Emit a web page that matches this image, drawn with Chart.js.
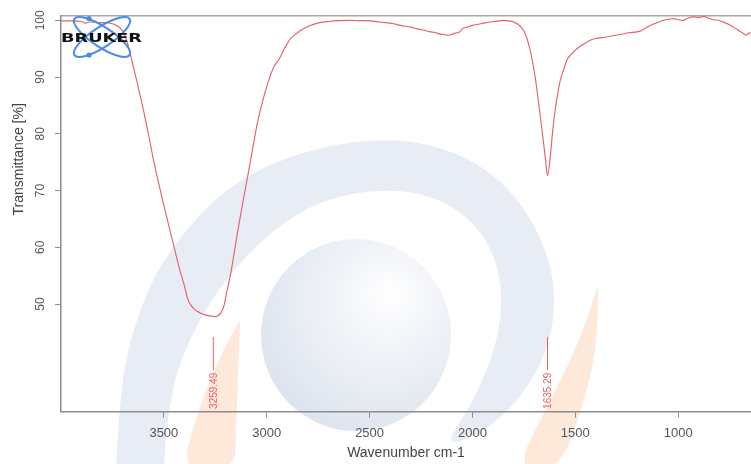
<!DOCTYPE html>
<html><head><meta charset="utf-8">
<script src="https://cdn.jsdelivr.net/npm/chart.js@4.4.1/dist/chart.umd.min.js"></script>
<style>html,body{margin:0;padding:0;background:#fff;overflow:hidden}</style>
</head><body>
<canvas id="c" width="751" height="464"></canvas>
<script>
// ---- data ----
const wavenumbers = [4000,3950,3900,3880,3860,3820,3780,3750,3730,3715,3700,3690,3677,3660,3636,3600,3570,3544,3500,3458,3424,3400,3385,3370,3355,3340,3320,3300,3275,3255,3240,3224,3208,3195,3175,3160,3143,3111,3078,3046,3025,3005,2985,2965,2941,2917,2900,2884,2868,2836,2800,2754,2700,2650,2593,2550,2496,2450,2400,2383,2350,2300,2269,2240,2210,2188,2160,2140,2123,2100,2090,2075,2060,2050,2026,2000,1970,1946,1900,1870,1849,1820,1800,1775,1751,1735,1719,1695,1670,1646,1635,1622,1610,1598,1585,1573,1555,1541,1520,1492,1460,1427,1400,1379,1330,1282,1240,1185,1160,1136,1100,1072,1045,1023,1000,975,950,926,900,878,855,829,805,781,755,732,710,684,667,655,646];
const transmittance = [99.9,99.9,99.8,99.5,99.7,99.6,99.6,99.4,99.1,98.7,98.1,97.4,96.0,93.6,90.0,84.3,79.0,74.3,67.4,61.2,56.2,53.2,51.0,49.9,49.2,48.8,48.4,48.1,47.9,47.8,47.9,48.4,49.7,52.0,55.4,58.6,62.4,68.9,75.4,81.8,85.0,87.7,90.0,91.8,93.1,94.8,95.9,96.8,97.3,98.2,98.9,99.5,99.8,99.95,100.0,99.95,99.9,99.7,99.5,99.4,99.1,98.8,98.5,98.3,98.0,97.9,97.6,97.5,97.4,97.5,97.7,97.8,98.0,98.5,98.8,99.1,99.3,99.5,99.8,99.9,100.0,99.9,99.7,99.2,98.2,96.8,94.7,90.0,83.0,75.9,72.6,75.9,80.5,84.2,87.2,89.4,91.5,93.0,94.0,95.0,95.8,96.5,96.8,96.9,97.2,97.5,97.8,98.1,98.6,99.1,99.6,100.0,100.2,100.3,100.1,100.0,100.4,100.6,100.5,100.7,100.4,100.1,100.0,99.7,99.3,98.8,98.3,97.7,97.4,97.8,97.6];
const xTickValues = [3500,3000,2500,2000,1500,1000];
const yTickValues = [50,60,70,80,90,100];
const peakPositions = [3259.49, 1635.29];
const peakLabels = ['3259.49','1635.29'];
const xTitle = 'Wavenumber cm-1';
const yTitle = 'Transmittance [%]';
const logoText = 'BRUKER';

const FONT = '"Liberation Sans", Arial, sans-serif';
const AXIS = '#8c8c8c';
const RED = '#e5606a';

function smoothPath(ctx, pts){
  ctx.moveTo(pts[0][0], pts[0][1]);
  for (let i=1;i<pts.length-1;i++){
    const mx=(pts[i][0]+pts[i+1][0])/2, my=(pts[i][1]+pts[i+1][1])/2;
    ctx.quadraticCurveTo(pts[i][0],pts[i][1],mx,my);
  }
  const l=pts[pts.length-1]; ctx.lineTo(l[0],l[1]);
}

const watermark = {
  id:'watermark',
  beforeDraw(chart){
    const ctx = chart.ctx;
    ctx.save();
    ctx.fillStyle='#fff'; ctx.fillRect(0,0,chart.width,chart.height);
    // blue band
    ctx.fillStyle='#e8ecf4';
    ctx.beginPath();
    smoothPath(ctx,[[116,470],[118,420],[128,340],[165,250],[250,165],[390,132],[495,166],[554,255],[554,345],[505,420],[440,452],
      [475,400],[502,330],[500,262],[465,210],[400,186],[305,202],[225,275],[178,360],[166,430],[164,470]]);
    ctx.closePath(); ctx.fill();
    // orange pieces
    ctx.fillStyle='#fde8da';
    ctx.beginPath();
    smoothPath(ctx,[[240,320],[238,380],[236,430],[235,470],[182,470],[195,420],[218,360],[240,320]]);
    ctx.closePath(); ctx.fill();
    ctx.beginPath();
    smoothPath(ctx,[[598,286],[598,340],[585,400],[560,470],[515,470],[548,405],[578,345],[598,286]]);
    ctx.closePath(); ctx.fill();
    // sphere
    const g = ctx.createRadialGradient(392,292,0,380,310,140);
    g.addColorStop(0,'#ffffff'); g.addColorStop(0.45,'#eef1f7'); g.addColorStop(1,'#dbe2ed');
    ctx.fillStyle=g;
    ctx.beginPath(); ctx.ellipse(356,335,95,96,0,0,Math.PI*2); ctx.fill();
    ctx.restore();
  },
  afterDatasetsDraw(chart){
    const ctx = chart.ctx, xs = chart.scales.x, ys = chart.scales.y;
    ctx.save();
    // peak markers
    peakPositions.forEach((p,i)=>{
      const px = xs.getPixelForValue(p);
      ctx.strokeStyle=RED; ctx.lineWidth=1;
      ctx.beginPath(); ctx.moveTo(px, ys.getPixelForValue(44.2)); ctx.lineTo(px, ys.getPixelForValue(38.4)); ctx.stroke();
      ctx.save();
      ctx.translate(px+0.5, ys.getPixelForValue(37.9));
      ctx.rotate(-Math.PI/2);
      ctx.fillStyle=RED; ctx.font='10px '+FONT; ctx.textAlign='right'; ctx.textBaseline='middle';
      ctx.fillText(peakLabels[i],0,0);
      ctx.restore();
    });
    // logo
    ctx.strokeStyle='#4b8be6'; ctx.lineWidth=2;
    ctx.beginPath(); ctx.ellipse(102,37,33,10,0.58,0,Math.PI*2); ctx.stroke();
    ctx.beginPath(); ctx.ellipse(102,37,33,10,-0.58,0,Math.PI*2); ctx.stroke();
    ctx.fillStyle='#4b8be6';
    ctx.beginPath(); ctx.arc(89,18.5,2.6,0,Math.PI*2); ctx.fill();
    ctx.beginPath(); ctx.arc(89,55,2.6,0,Math.PI*2); ctx.fill();
    ctx.font='bold 13px "DejaVu Sans", sans-serif';
    const w = ctx.measureText(logoText).width;
    ctx.save(); ctx.translate(61,42); ctx.scale(81/w,1);
    ctx.fillStyle='#111'; ctx.textBaseline='alphabetic'; ctx.fillText(logoText,0,0);
    ctx.restore();
    // y title
    ctx.save();
    ctx.translate(19, ys.getPixelForValue(75.5));
    ctx.rotate(-Math.PI/2);
    ctx.fillStyle='#444'; ctx.font='14px '+FONT; ctx.textAlign='center'; ctx.textBaseline='middle';
    ctx.fillText(yTitle,0,0);
    ctx.restore();
    ctx.restore();
  }
};

const XMIN = 646, XMAX = 4000;
new Chart(document.getElementById('c'), {
  type:'line',
  data:{datasets:[{
    data: wavenumbers.map((w,i)=>({x:w,y:transmittance[i]})),
    borderColor:RED, borderWidth:1.15, pointRadius:0, fill:false,
    cubicInterpolationMode:'monotone'
  }]},
  options:{
    responsive:false, animation:false, devicePixelRatio:1,
    layout:{padding:0},
    plugins:{legend:{display:false}, tooltip:{enabled:false}},
    scales:{
      x:{
        type:'linear', position:'bottom', min:XMIN, max:XMAX, reverse:true,
        afterBuildTicks:s=>{s.ticks = xTickValues.map(v=>({value:v}));},
        afterFit:s=>{s.height=52.3;},
        grid:{display:true, drawOnChartArea:false, drawTicks:true, tickLength:6, color:AXIS, lineWidth:1},
        border:{display:true, color:AXIS, width:1.5},
        ticks:{color:'#555', font:{family:FONT,size:13}, padding:8, maxRotation:0, autoSkip:false, callback:v=>String(v)},
        title:{display:true, text:xTitle, color:'#444', font:{family:FONT,size:14}, padding:{top:0,bottom:2}}
      },
      x2:{
        type:'linear', position:'top', min:XMIN, max:XMAX, reverse:true,
        grid:{display:false}, ticks:{display:false},
        border:{display:true, color:'#a8a8a8', width:1.5},
        afterFit:s=>{s.height=16;}
      },
      y:{
        type:'linear', position:'left', min:31.04, max:100.76,
        afterBuildTicks:s=>{s.ticks = yTickValues.map(v=>({value:v}));},
        afterFit:s=>{s.width=61;},
        grid:{display:true, drawOnChartArea:false, drawTicks:true, tickLength:6, color:AXIS, lineWidth:1},
        border:{display:true, color:AXIS, width:1.5},
        ticks:{color:'#555', font:{family:FONT,size:12}, padding:4, minRotation:90, maxRotation:90, crossAlign:'center', autoSkip:false, callback:v=>String(v)}
      }
    }
  },
  plugins:[watermark]
});
</script>
</body></html>
